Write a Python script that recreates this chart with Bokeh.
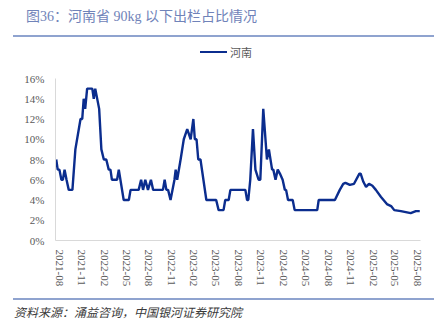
from datetime import datetime
import pandas as pd
from bokeh.plotting import figure
from bokeh.models import (Div, FixedTicker, PrintfTickFormatter,
                          DatetimeTickFormatter, Range1d, ColumnDataSource)
from bokeh.layouts import column
from bokeh.embed import file_html
from bokeh.resources import INLINE

title_text = "图36：河南省 90kg 以下出栏占比情况"
source_text = "资料来源：涌益咨询，中国银河证券研究院"
series_name = "河南"

dates = [
    "2021-07-20", "2021-07-26", "2021-08-02", "2021-08-10", "2021-08-16", "2021-08-23",
    "2021-08-31", "2021-09-09", "2021-09-24", "2021-10-06", "2021-10-27", "2021-11-03",
    "2021-11-09", "2021-11-15", "2021-11-23", "2021-12-14", "2021-12-20", "2021-12-26",
    "2022-01-11", "2022-01-20", "2022-01-30", "2022-02-09", "2022-02-19", "2022-02-26",
    "2022-03-04", "2022-03-25", "2022-04-01", "2022-04-21", "2022-05-12", "2022-05-19",
    "2022-06-21", "2022-07-01", "2022-07-09", "2022-07-18", "2022-07-29", "2022-08-10",
    "2022-08-19", "2022-09-28", "2022-10-05", "2022-10-12", "2022-10-19", "2022-10-29",
    "2022-11-14", "2022-11-19", "2022-11-25", "2022-12-09", "2022-12-22", "2023-01-05",
    "2023-01-19", "2023-01-30", "2023-02-05", "2023-02-12", "2023-02-19", "2023-02-28",
    "2023-03-24", "2023-05-03", "2023-05-13", "2023-06-02", "2023-06-09", "2023-06-23",
    "2023-06-30", "2023-08-30", "2023-09-06", "2023-09-11", "2023-09-19", "2023-09-30",
    "2023-10-10", "2023-10-23", "2023-10-30", "2023-11-11", "2023-11-26", "2023-12-04",
    "2023-12-17", "2023-12-22", "2023-12-31", "2024-01-09", "2024-01-20", "2024-01-29",
    "2024-02-07", "2024-02-12", "2024-02-20", "2024-03-10", "2024-03-18", "2024-06-18",
    "2024-06-24", "2024-08-29", "2024-09-18", "2024-10-02", "2024-10-11", "2024-10-29",
    "2024-11-15", "2024-12-07", "2024-12-12", "2024-12-23", "2025-01-03", "2025-01-15",
    "2025-01-29", "2025-02-12", "2025-03-05", "2025-03-29", "2025-04-15", "2025-04-28",
    "2025-05-25", "2025-06-14", "2025-07-04", "2025-07-25", "2025-08-10",
]
values = [
    8, 7, 7, 6, 6, 7,
    6, 5, 5, 9, 12, 12,
    14, 13, 15, 15, 14, 15,
    13, 9, 8, 8, 7, 7,
    6, 6, 7, 4, 4, 5,
    5, 6, 5, 6, 5, 6,
    5, 5, 6, 5, 5, 4,
    6, 7, 6, 8, 10, 11,
    10, 12, 10, 10, 8, 8,
    4, 4, 3, 3, 4, 4,
    5, 5, 4, 4, 6, 11,
    7, 6, 6, 13, 8, 9,
    7, 7, 6, 7, 6.5, 6,
    5, 5, 4, 4, 3, 3,
    4, 4, 5, 5.6, 5.7, 5.5,
    5.6, 6.6, 6.6, 5.8, 5.3, 5.6,
    5.4, 5.0, 4.3, 3.6, 3.4, 3.0,
    2.9, 2.8, 2.7, 2.9, 2.9,
]
tick_months = ["2021-08", "2021-11", "2022-02", "2022-05", "2022-08", "2022-11",
               "2023-02", "2023-05", "2023-08", "2023-11", "2024-02", "2024-05",
               "2024-08", "2024-11", "2025-02", "2025-05", "2025-08"]
y_ticks = [0, 2, 4, 6, 8, 10, 12, 14, 16]

LINE_COLOR = "#0b2d8e"
AXIS_TEXT = "#595959"
RULE = "#8fa3cf"
LATIN_CJK = "'Liberation Serif', 'Noto Sans CJK SC'"

src = ColumnDataSource(dict(x=pd.to_datetime(dates), y=values))

p = figure(width=440, height=234, output_backend="svg", toolbar_location=None,
           x_axis_type="datetime",
           x_range=Range1d(datetime(2021, 7, 17), datetime(2025, 8, 13)),
           y_range=Range1d(0, 16),
           min_border_left=55, min_border_right=20, min_border_top=14, min_border_bottom=58)
p.outline_line_color = None
p.xgrid.visible = False
p.ygrid.visible = False

r = p.line("x", "y", source=src, line_color=LINE_COLOR, line_width=2.4)

p.yaxis.ticker = FixedTicker(ticks=y_ticks)
p.yaxis.formatter = PrintfTickFormatter(format="%d%%")
p.xaxis.ticker = FixedTicker(ticks=[pd.Timestamp(m + "-01").value // 10**6 for m in tick_months])
fmt = "%Y-%m"
p.xaxis.formatter = DatetimeTickFormatter(years=fmt, months=fmt, days=fmt, hours=fmt,
                                          minutes=fmt, seconds=fmt, milliseconds=fmt,
                                          microseconds=fmt, hourmin=fmt, minsec=fmt)
p.xaxis.major_label_orientation = "vertical"
for ax in (p.xaxis[0], p.yaxis[0]):
    ax.axis_line_color = "#d9d9d9"
    ax.axis_line_width = 1
    ax.major_tick_line_color = None
    ax.minor_tick_line_color = None
    ax.major_tick_out = 0
    ax.major_tick_in = 0
    ax.minor_tick_out = 0
    ax.minor_tick_in = 0
    ax.major_label_text_font = "Liberation Serif"
    ax.major_label_text_font_size = "11px"
    ax.major_label_text_color = AXIS_TEXT
p.xaxis.major_label_standoff = 9
p.yaxis.major_label_standoff = 11

title_div = Div(
    text=(f'<div style="margin-left:13px;width:421px;height:35px;border-bottom:2px solid {RULE};'
          f'box-sizing:content-box;">'
          f'<div style="padding-left:13px;padding-top:8px;font-family:{LATIN_CJK};'
          f'font-size:14px;line-height:18px;color:#7083b9;white-space:nowrap;">{title_text}</div></div>'),
    width=440, height=40, margin=(0, 0, 0, 0))

legend_div = Div(
    text=(f'<div style="display:flex;align-items:center;height:24px;padding-left:200px;">'
          f'<span style="display:inline-block;width:27px;height:0;border-top:2.4px solid {LINE_COLOR};"></span>'
          f'<span style="margin-left:3px;font-family:\'Noto Sans CJK SC\';font-size:11px;'
          f'line-height:14px;color:{AXIS_TEXT};white-space:nowrap;">{series_name}</span></div>'),
    width=440, height=24, margin=(0, 0, 0, 0))

source_div = Div(
    text=(f'<div style="margin-left:13px;width:421px;border-top:2px solid {RULE};">'
          f'<div style="padding-left:1px;padding-top:4px;font-family:\'Noto Sans CJK SC\';'
          f'font-size:12px;line-height:16px;font-style:italic;color:#3a3a3a;white-space:nowrap;">'
          f'{source_text}</div></div>'),
    width=440, height=32, margin=(0, 0, 0, 0))

layout = column(title_div, legend_div, p, source_div, spacing=0)

open("out.html", "w").write(file_html(layout, INLINE))
